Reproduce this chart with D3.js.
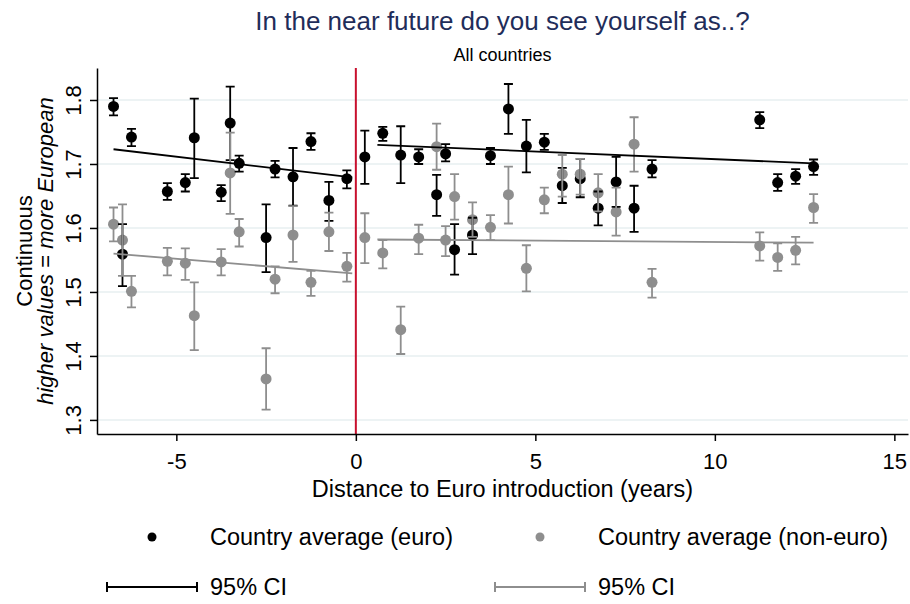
<!DOCTYPE html>
<html>
<head>
<meta charset="utf-8">
<script src="https://cdn.jsdelivr.net/npm/d3@7"></script>
<style>
  body { margin: 0; background: #fff; }
  svg { display: block; font-family: "Liberation Sans", Arial, sans-serif; }
</style>
</head>
<body>
<div id="chart"></div>
<script>
// Distance to euro introduction (years), same positions for both groups
const years = [-6.75, -6.5, -6.25, -5.25, -4.75, -4.5, -3.75, -3.5, -3.25, -2.5, -2.25, -1.75, -1.25, -0.75, -0.25,
  0.25, 0.75, 1.25, 1.75, 2.25, 2.5, 2.75, 3.25, 3.75, 4.25, 4.75, 5.25, 5.75, 6.25, 6.75, 7.25, 7.75, 8.25,
  11.25, 11.75, 12.25, 12.75];

// Country average (euro)
const euroMean = [1.790, 1.559, 1.742, 1.657, 1.671, 1.741, 1.656, 1.764, 1.701, 1.585, 1.692, 1.680, 1.735, 1.643, 1.677,
  1.711, 1.748, 1.714, 1.711, 1.652, 1.716, 1.566, 1.589, 1.713, 1.786, 1.728, 1.734, 1.666, 1.677, 1.631, 1.672, 1.631, 1.692,
  1.769, 1.671, 1.681, 1.696];
const euroLow = [1.776, 1.509, 1.728, 1.644, 1.657, 1.678, 1.642, 1.706, 1.688, 1.531, 1.679, 1.635, 1.722, 1.611, 1.662,
  1.669, 1.736, 1.670, 1.700, 1.619, 1.704, 1.527, 1.559, 1.700, 1.747, 1.687, 1.722, 1.639, 1.648, 1.604, 1.633, 1.594, 1.679,
  1.756, 1.658, 1.669, 1.683];
const euroHigh = [1.803, 1.606, 1.755, 1.670, 1.684, 1.802, 1.667, 1.821, 1.713, 1.637, 1.705, 1.725, 1.748, 1.672, 1.690,
  1.752, 1.758, 1.759, 1.723, 1.683, 1.731, 1.606, 1.616, 1.725, 1.825, 1.769, 1.747, 1.694, 1.708, 1.657, 1.711, 1.666, 1.706,
  1.781, 1.684, 1.692, 1.707];

// Country average (non-euro)
const nonEuroMean = [1.606, 1.581, 1.501, 1.548, 1.545, 1.463, 1.547, 1.686, 1.594, 1.364, 1.520, 1.589, 1.515, 1.594, 1.540,
  1.585, 1.561, 1.441, 1.584, 1.727, 1.581, 1.649, 1.613, 1.601, 1.652, 1.537, 1.644, 1.684, 1.684, 1.655, 1.625, 1.731, 1.515,
  1.572, 1.554, 1.565, 1.632];
const nonEuroLow = [1.579, 1.525, 1.476, 1.526, 1.519, 1.409, 1.526, 1.622, 1.571, 1.316, 1.498, 1.547, 1.494, 1.564, 1.516,
  1.545, 1.537, 1.403, 1.559, 1.691, 1.556, 1.613, 1.586, 1.581, 1.607, 1.501, 1.623, 1.649, 1.652, 1.626, 1.588, 1.688, 1.491,
  1.549, 1.533, 1.543, 1.608];
const nonEuroHigh = [1.632, 1.637, 1.525, 1.569, 1.568, 1.515, 1.567, 1.749, 1.614, 1.412, 1.540, 1.634, 1.533, 1.624, 1.561,
  1.623, 1.581, 1.477, 1.605, 1.763, 1.603, 1.684, 1.640, 1.620, 1.696, 1.573, 1.663, 1.714, 1.708, 1.684, 1.663, 1.773, 1.536,
  1.593, 1.576, 1.586, 1.653];

// linear fits, before and after introduction: [x, y] end points
const euroFitBefore = [[-6.75, 1.723], [-0.1, 1.679]];
const euroFitAfter = [[0.6, 1.730], [12.75, 1.701]];
const nonEuroFitBefore = [[-6.75, 1.560], [-0.1, 1.529]];
const nonEuroFitAfter = [[0.6, 1.582], [12.75, 1.577]];

const xTicks = [-5, 0, 5, 10, 15];
const yTicks = [1.3, 1.4, 1.5, 1.6, 1.7, 1.8];

const colors = {
  euro: "#000000",
  nonEuro: "#8e8e8e",
  title: "#1f2d5a",
  xline: "#c8102e",
  grid: "#e7eff1",
};

const chart = {
  width: 910,
  height: 604,
  margin: { top: 68, right: 2, bottom: 170, left: 97 },
};

const svg = d3.select("#chart")
  .append("svg")
  .attr("width", chart.width)
  .attr("height", chart.height);

let x = d3.scaleLinear()
  .domain([-7.21, 15.38])
  .range([chart.margin.left, chart.width - chart.margin.right]);

let y = d3.scaleLinear()
  .domain([1.278, 1.85])
  .range([chart.height - chart.margin.bottom, chart.margin.top]);

// titles
svg.append("text")
  .attr("x", (x.range()[0] + x.range()[1]) / 2)
  .attr("y", 30)
  .attr("text-anchor", "middle")
  .attr("font-size", 26)
  .attr("fill", colors.title)
  .text("In the near future do you see yourself as..?");

svg.append("text")
  .attr("x", (x.range()[0] + x.range()[1]) / 2)
  .attr("y", 61)
  .attr("text-anchor", "middle")
  .attr("font-size", 18)
  .attr("fill", "#000")
  .text("All countries");

// grid lines
svg.append("g")
  .selectAll("line")
  .data(yTicks)
  .join("line")
  .attr("x1", x.range()[0])
  .attr("x2", x.range()[1])
  .attr("y1", d => y(d))
  .attr("y2", d => y(d))
  .attr("stroke", colors.grid)
  .attr("stroke-width", 1.5);

// x = 0 line
svg.append("line")
  .attr("x1", x(0))
  .attr("x2", x(0))
  .attr("y1", y.range()[1])
  .attr("y2", y.range()[0])
  .attr("stroke", colors.xline)
  .attr("stroke-width", 2);

function drawPoints(means, color) {
  svg.append("g")
    .selectAll("circle")
    .data(means)
    .join("circle")
    .attr("cx", (d, i) => x(years[i]))
    .attr("cy", d => y(d))
    .attr("r", 5.5)
    .attr("fill", color);
}

function drawCaps(lows, highs, color) {
  const capHalf = 4.5;
  const g = svg.append("g")
    .attr("stroke", color)
    .attr("stroke-width", 1.8)
    .attr("fill", "none");

  g.selectAll("path")
    .data(years)
    .join("path")
    .attr("d", (d, i) => {
      const cx = x(d);
      const lo = y(lows[i]);
      const hi = y(highs[i]);
      return `M${cx - capHalf},${hi}H${cx + capHalf}M${cx},${hi}V${lo}M${cx - capHalf},${lo}H${cx + capHalf}`;
    });
}

function drawFit(points, color) {
  svg.append("path")
    .datum(points)
    .attr("d", d3.line().x(d => x(d[0])).y(d => y(d[1])))
    .attr("stroke", color)
    .attr("stroke-width", 1.8)
    .attr("fill", "none");
}

drawPoints(euroMean, colors.euro);
drawPoints(nonEuroMean, colors.nonEuro);
drawCaps(euroLow, euroHigh, colors.euro);
drawCaps(nonEuroLow, nonEuroHigh, colors.nonEuro);
drawFit(euroFitBefore, colors.euro);
drawFit(euroFitAfter, colors.euro);
drawFit(nonEuroFitBefore, colors.nonEuro);
drawFit(nonEuroFitAfter, colors.nonEuro);

// axes
let xAxis = g => g
  .attr("transform", `translate(0,${y.range()[0]})`)
  .call(d3.axisBottom(x)
    .tickValues(xTicks)
    .tickFormat(d => d < 0 ? "-" + Math.abs(d) : d)
    .tickSize(7)
    .tickPadding(12)
    .tickSizeOuter(0));

let yAxis = g => g
  .attr("transform", `translate(${x.range()[0]},0)`)
  .call(d3.axisLeft(y)
    .tickValues(yTicks)
    .tickFormat(d3.format(".1f"))
    .tickSize(7)
    .tickSizeOuter(0));

const gx = svg.append("g").call(xAxis);
gx.select(".domain").attr("stroke", "#000").attr("stroke-width", 1.5);
gx.selectAll(".tick line").attr("stroke", "#000").attr("stroke-width", 1.5);
gx.selectAll(".tick text")
  .attr("font-family", "Liberation Sans, Arial, sans-serif")
  .attr("font-size", 22)
  .attr("fill", "#000");

const gy = svg.append("g").call(yAxis);
gy.select(".domain").attr("stroke", "#000").attr("stroke-width", 1.5);
gy.selectAll(".tick line").attr("stroke", "#000").attr("stroke-width", 1.5);
gy.selectAll(".tick text")
  .attr("font-family", "Liberation Sans, Arial, sans-serif")
  .attr("font-size", 22)
  .attr("fill", "#000")
  .attr("text-anchor", "middle")
  .attr("dy", 0)
  .attr("transform", "rotate(-90)")
  .attr("x", 0)
  .attr("y", -16);

// axis titles
svg.append("text")
  .attr("x", (x.range()[0] + x.range()[1]) / 2)
  .attr("y", 497)
  .attr("text-anchor", "middle")
  .attr("font-size", 23.5)
  .attr("fill", "#000")
  .text("Distance to Euro introduction (years)");

const yMid = (y.range()[0] + y.range()[1]) / 2;

svg.append("text")
  .attr("transform", `translate(32,${yMid}) rotate(-90)`)
  .attr("text-anchor", "middle")
  .attr("font-size", 22)
  .attr("fill", "#000")
  .text("Continuous");

const yTitle2 = svg.append("text")
  .attr("transform", `translate(53,${yMid}) rotate(-90)`)
  .attr("text-anchor", "middle")
  .attr("font-size", 22)
  .attr("fill", "#000");
yTitle2.append("tspan").attr("font-style", "italic").text("higher values");
yTitle2.append("tspan").text(" = ");
yTitle2.append("tspan").attr("font-style", "italic").text("more European");

// legend
const legendItems = [
  { kind: "dot", color: colors.euro, label: "Country average (euro)", x: 152, y: 537 },
  { kind: "dot", color: colors.nonEuro, label: "Country average (non-euro)", x: 540, y: 537 },
  { kind: "ci", color: colors.euro, label: "95% CI", x: 152, y: 587 },
  { kind: "ci", color: colors.nonEuro, label: "95% CI", x: 540, y: 587 },
];

const legend = svg.append("g");

legendItems.forEach(item => {
  if (item.kind === "dot") {
    legend.append("circle")
      .attr("cx", item.x)
      .attr("cy", item.y)
      .attr("r", 4.5)
      .attr("fill", item.color);
  } else {
    legend.append("path")
      .attr("d", `M${item.x - 45},${item.y - 5}V${item.y + 5}M${item.x - 45},${item.y}H${item.x + 45}M${item.x + 45},${item.y - 5}V${item.y + 5}`)
      .attr("stroke", item.color)
      .attr("stroke-width", 2)
      .attr("fill", "none");
  }

  legend.append("text")
    .attr("x", item.x + 58)
    .attr("y", item.y + 8)
    .attr("font-size", 23.5)
    .attr("fill", "#000")
    .text(item.label);
});
</script>
</body>
</html>
